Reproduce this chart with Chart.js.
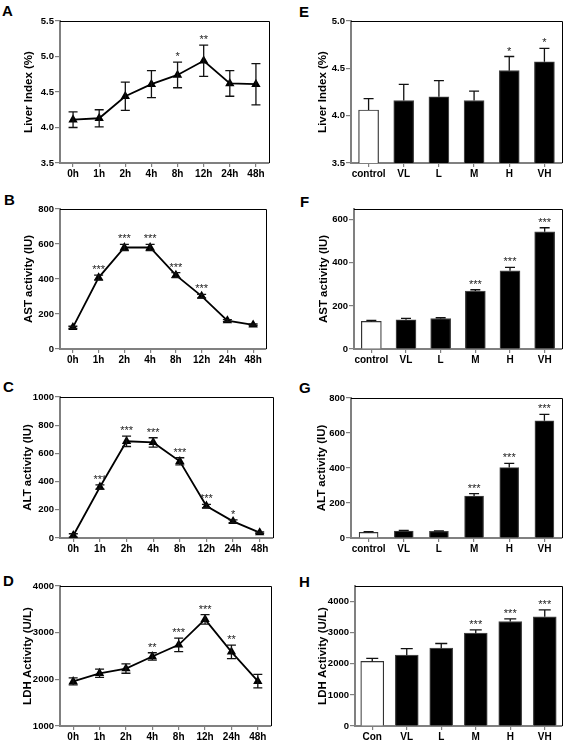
<!DOCTYPE html>
<html>
<head>
<meta charset="utf-8">
<script src="https://cdn.jsdelivr.net/npm/chart.js@4.4.1/dist/chart.umd.min.js"></script>
<style>
  body { margin: 0; background: #fff; }
  #fig { position: relative; width: 567px; height: 740px; font-family: "Liberation Sans", Arial, sans-serif; }
  #fig canvas { position: absolute; }
  .lbl { position: absolute; font-weight: bold; font-size: 15px; line-height: 1; color: #000; }
</style>
</head>
<body>
<div id="fig">
  <div class="lbl" style="left:2px;top:3px">A</div>
  <div class="lbl" style="left:299px;top:4px">E</div>
  <div class="lbl" style="left:4px;top:192px">B</div>
  <div class="lbl" style="left:300px;top:194px">F</div>
  <div class="lbl" style="left:3px;top:379px">C</div>
  <div class="lbl" style="left:299px;top:380px">G</div>
  <div class="lbl" style="left:3px;top:573px">D</div>
  <div class="lbl" style="left:299px;top:574px">H</div>
  <canvas id="cA" width="283" height="185" style="left:0;top:0"></canvas>
  <canvas id="cE" width="284" height="185" style="left:283px;top:0"></canvas>
  <canvas id="cB" width="283" height="185" style="left:0;top:185px"></canvas>
  <canvas id="cF" width="284" height="185" style="left:283px;top:185px"></canvas>
  <canvas id="cC" width="283" height="185" style="left:0;top:370px"></canvas>
  <canvas id="cG" width="284" height="185" style="left:283px;top:370px"></canvas>
  <canvas id="cD" width="283" height="185" style="left:0;top:555px"></canvas>
  <canvas id="cH" width="284" height="185" style="left:283px;top:555px"></canvas>
</div>
<script>
// categories
const timeLabels = ["0h", "1h", "2h", "4h", "8h", "12h", "24h", "48h"];
const doseLabels = ["control", "VL", "L", "M", "H", "VH"];
const doseLabelsH = ["Con", "VL", "L", "M", "H", "VH"];

// y tick values for each panel
const liverTicks = [3.5, 4.0, 4.5, 5.0, 5.5];
const astTicks = [0, 200, 400, 600, 800];
const altTicks = [0, 200, 400, 600, 800, 1000];
const ldhTicks = [1000, 2000, 3000, 4000];
const liverDoseTicks = [3.5, 4.0, 4.5, 5.0];
const astDoseTicks = [0, 200, 400, 600];
const altDoseTicks = [0, 200, 400, 600, 800];
const ldhDoseTicks = [0, 1000, 2000, 3000, 4000];

// time course (A-D): mean, SD, significance
const liverTime = [4.11, 4.13, 4.44, 4.61, 4.74, 4.94, 4.62, 4.61];
const liverTimeErr = [0.11, 0.12, 0.20, 0.19, 0.18, 0.22, 0.18, 0.29];
const liverTimeSig = ["", "", "", "", "*", "**", "", ""];

const astTime = [124, 408, 580, 580, 422, 302, 162, 138];
const astTimeErr = [6, 14, 18, 18, 14, 10, 6, 5];
const astTimeSig = ["", "***", "***", "***", "***", "***", "", ""];

const altTime = [18, 362, 686, 678, 544, 227, 118, 38];
const altTimeErr = [12, 15, 37, 33, 25, 12, 10, 5];
const altTimeSig = ["", "***", "***", "***", "***", "***", "*", ""];

const ldhTime = [1955, 2130, 2230, 2490, 2740, 3285, 2590, 1960];
const ldhTimeErr = [75, 90, 100, 80, 145, 100, 145, 145];
const ldhTimeSig = ["", "", "", "**", "***", "***", "**", ""];

// dose response (E-H)
const liverDose = [4.06, 4.16, 4.20, 4.16, 4.475, 4.57];
const liverDoseErr = [0.12, 0.17, 0.17, 0.10, 0.15, 0.14];
const liverDoseSig = ["", "", "", "", "*", "*"];

const astDose = [128, 136, 141, 269, 363, 544];
const astDoseErr = [5, 6, 4, 6, 16, 19];
const astDoseSig = ["", "", "", "***", "***", "***"];

const altDose = [32, 40, 38, 240, 403, 670];
const altDoseErr = [4, 4, 3, 14, 24, 36];
const altDoseSig = ["", "", "", "***", "***", "***"];

const ldhDose = [2075, 2278, 2503, 2984, 3358, 3508];
const ldhDoseErr = [96, 212, 149, 106, 86, 225];
const ldhDoseSig = ["", "", "", "***", "***", "***"];

const AXIS_GRAY = "#808080";
const FONT = "'Liberation Sans', Arial, sans-serif";

// error bars, significance stars and the top/right frame
const decorPlugin = {
  id: "decor",
  afterDatasetsDraw(chart) {
    const o = chart.options.plugins.decor;
    const { ctx, chartArea } = chart;
    const xs = chart.scales.x, ys = chart.scales.y;
    const vals = chart.data.datasets[0].data;
    ctx.save();
    ctx.strokeStyle = "#111";
    ctx.lineWidth = 1.3;
    vals.forEach((v, i) => {
      const x = xs.getPixelForValue(i);
      const yTop = ys.getPixelForValue(v + o.err[i]);
      const yBot = o.bar ? ys.getPixelForValue(v) : ys.getPixelForValue(v - o.err[i]);
      ctx.beginPath();
      ctx.moveTo(x, yTop); ctx.lineTo(x, yBot);
      ctx.moveTo(x - o.cap, yTop); ctx.lineTo(x + o.cap, yTop);
      if (!o.bar) { ctx.moveTo(x - o.cap, yBot); ctx.lineTo(x + o.cap, yBot); }
      ctx.stroke();
      if (o.sig[i]) {
        ctx.fillStyle = "#222";
        ctx.font = "11px " + FONT;
        ctx.textAlign = "center";
        ctx.textBaseline = "alphabetic";
        ctx.fillText(o.sig[i], x, yTop - 2);
      }
    });
    // frame
    ctx.strokeStyle = "#000";
    ctx.lineWidth = 1;
    ctx.beginPath();
    ctx.moveTo(chartArea.left, chartArea.top + 0.5);
    ctx.lineTo(chartArea.right + 0.5, chartArea.top + 0.5);
    ctx.lineTo(chartArea.right + 0.5, chartArea.bottom);
    ctx.stroke();
    ctx.restore();
  }
};

function makePanel(id, cBox, area, titleX, kind, labels, values, err, sig, yOpts) {
  const [cx, cy, cw, ch] = cBox;
  const [l, t, r, b] = area;
  const isBar = kind === "bar";
  const dataset = isBar ? {
    data: values,
    backgroundColor: values.map((v, i) => i === 0 ? "#fff" : "#000"),
    borderColor: values.map((v, i) => i === 0 ? "#333" : "#444"),
    borderWidth: 1.2,
    barThickness: yOpts.barW
  } : {
    data: values,
    borderColor: "#000",
    borderWidth: 1.8,
    pointStyle: "triangle",
    pointRadius: 3.6,
    pointBackgroundColor: "#000",
    pointBorderColor: "#000",
    tension: 0
  };
  new Chart(document.getElementById(id), {
    type: isBar ? "bar" : "line",
    data: { labels: labels, datasets: [dataset] },
    options: {
      responsive: false,
      animation: false,
      layout: { padding: { left: 0, bottom: 0, top: t - cy, right: cx + cw - r } },
      plugins: {
        legend: { display: false },
        tooltip: { enabled: false },
        decor: { err: err, sig: sig, bar: isBar, cap: isBar ? yOpts.cap : 4.5 }
      },
      scales: {
        x: {
          offset: true,
          afterFit: s => { s.height = cy + ch - b; },
          grid: { display: true, drawOnChartArea: false, offset: false, tickLength: 4, color: AXIS_GRAY, lineWidth: 1.2 },
          border: { display: true, color: AXIS_GRAY, width: 2 },
          ticks: { color: "#000", padding: 1, maxRotation: 0, autoSkip: false, font: { family: FONT, size: 10, weight: "bold" } }
        },
        y: {
          min: yOpts.min, max: yOpts.max,
          afterFit: s => { s.width = l - cx; },
          afterBuildTicks: s => { s.ticks = yOpts.ticks.map(v => ({ value: v })); },
          grid: { display: true, drawOnChartArea: false, tickLength: 5, color: AXIS_GRAY, lineWidth: 1.2 },
          border: { display: true, color: AXIS_GRAY, width: 2 },
          title: {
            display: true, text: yOpts.title, color: "#000",
            font: { family: FONT, size: 11.5, weight: "bold" },
            padding: { top: titleX - cx - 6.9, bottom: 0 }
          },
          ticks: {
            color: "#000", padding: 1,
            font: { family: FONT, size: 9.5, weight: "bold" },
            callback: v => yOpts.dec ? v.toFixed(yOpts.dec) : String(v)
          }
        }
      }
    },
    plugins: [decorPlugin]
  });
}

makePanel("cA", [0, 0, 283, 185], [60, 21, 269, 163], 29, "line", timeLabels, liverTime, liverTimeErr, liverTimeSig,
  { min: 3.5, max: 5.5, ticks: liverTicks, dec: 1, title: "Liver Index (%)" });
makePanel("cB", [0, 185, 283, 185], [60, 209, 266, 349], 29, "line", timeLabels, astTime, astTimeErr, astTimeSig,
  { min: 0, max: 800, ticks: astTicks, title: "AST activity (IU)" });
makePanel("cC", [0, 370, 283, 185], [60, 397, 273, 538], 28, "line", timeLabels, altTime, altTimeErr, altTimeSig,
  { min: 0, max: 1000, ticks: altTicks, title: "ALT activity (IU)" });
makePanel("cD", [0, 555, 283, 185], [60, 586, 271, 726], 28, "line", timeLabels, ldhTime, ldhTimeErr, ldhTimeSig,
  { min: 1000, max: 4000, ticks: ldhTicks, title: "LDH Activity (U/L)" });

makePanel("cE", [283, 0, 284, 185], [351, 21, 562, 163], 323, "bar", doseLabels, liverDose, liverDoseErr, liverDoseSig,
  { min: 3.5, max: 5.0, ticks: liverDoseTicks, dec: 1, title: "Liver Index (%)", barW: 20, cap: 5 });
makePanel("cF", [283, 185, 284, 185], [354, 209, 562, 349], 324, "bar", doseLabels, astDose, astDoseErr, astDoseSig,
  { min: 0, max: 650, ticks: astDoseTicks, title: "AST activity (IU)", barW: 20, cap: 5 });
makePanel("cG", [283, 370, 284, 185], [351, 398, 562, 538], 322, "bar", doseLabels, altDose, altDoseErr, altDoseSig,
  { min: 0, max: 800, ticks: altDoseTicks, title: "ALT activity (IU)", barW: 19, cap: 5 });
makePanel("cH", [283, 555, 284, 185], [355, 586, 562, 726], 323, "bar", doseLabelsH, ldhDose, ldhDoseErr, ldhDoseSig,
  { min: 0, max: 4500, ticks: ldhDoseTicks, title: "LDH Activity (U/L)", barW: 23, cap: 6 });
</script>
</body>
</html>
